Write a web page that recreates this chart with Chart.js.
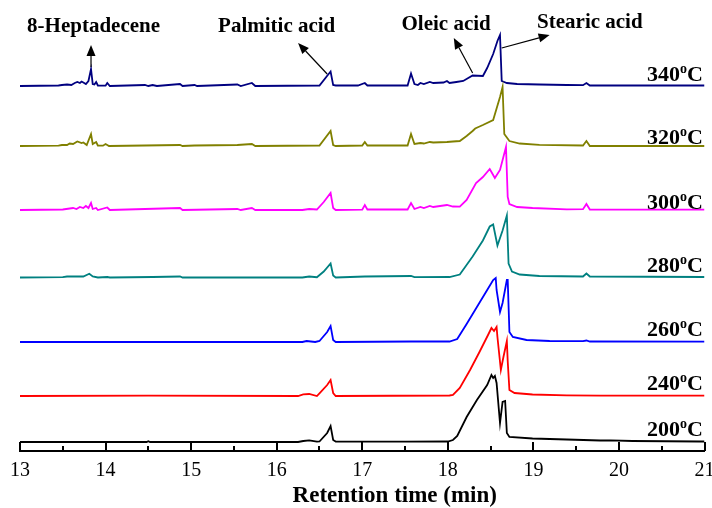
<!DOCTYPE html>
<html>
<head>
<meta charset="utf-8">
<script src="https://cdn.jsdelivr.net/npm/chart.js@4.4.1/dist/chart.umd.min.js"></script>
<style>
  html, body { margin: 0; padding: 0; background: #fff; }
  canvas { display: block; }
</style>
</head>
<body>
<canvas id="gc" width="712" height="508"></canvas>
<script>
// temperature labels, bottom to top
var temps = ["200", "240", "260", "280", "300", "320", "340"];
var colors = ["#000000", "#ff0000", "#0000ff", "#008080", "#ff00ff", "#808000", "#000080"];
// vertical offset of each trace (stacking)
var offsets = [9, 55, 109, 173.5, 241, 305, 365];

// [retention time (min), intensity above baseline]
var trace200 = [[13,0],[14.48,0],[14.5,0.8],[14.52,0],[15.5,0],[16.25,0],[16.31,1],[16.38,1.7],[16.47,0.3],[16.5,0.5],
  [16.59,9],[16.63,16],[16.66,2],[16.69,0.5],[17.5,0.3],[18.0,0.5],[18.06,2],[18.11,6],[18.22,25],[18.34,42],
  [18.46,57],[18.51,67],[18.53,64],[18.55,66],[18.57,59],[18.61,19],[18.64,40],[18.67,41],[18.69,9],[18.72,5],
  [18.99,3.5],[19.39,2.5],[19.78,1.5],[19.9,1.6],[20.16,1],[20.94,0.5],[21,0.5]];
var trace240 = [[13,0],[14.5,0.3],[16.25,0],[16.31,1.7],[16.38,2],[16.47,0],[16.5,2.7],[16.59,11],[16.63,16],[16.66,3],
  [16.69,0],[18.02,0.5],[18.06,1],[18.14,8],[18.26,26],[18.37,44],[18.47,61],[18.51,68],[18.54,65],[18.57,69],
  [18.58,59],[18.62,26],[18.65,39],[18.69,55],[18.7,35],[18.72,6],[18.78,3],[18.99,1.5],[19.39,0.7],[19.78,0.3],[21,0.3]];
var trace260 = [[13,0],[16.3,0],[16.35,1],[16.45,0],[16.5,1],[16.59,10],[16.63,16],[16.66,2],[16.69,0],[17.57,0.5],
  [18.02,0.5],[18.11,3],[18.22,18],[18.34,35],[18.46,52],[18.53,62],[18.56,64],[18.57,52],[18.61,30],[18.64,39],
  [18.69,62],[18.7,62],[18.72,10],[18.76,5],[18.92,2],[19.19,1],[19.58,0.8],[19.62,1.5],[19.66,0.5],[21,0.3]];
var trace280 = [[13,0],[13.5,0.3],[13.55,1],[13.74,1],[13.81,3.7],[13.85,1],[13.91,0],[14.02,0.5],[14.05,0],[14.55,0.5],
  [14.87,1],[14.9,0],[16.3,0],[16.38,1],[16.47,0.3],[16.55,6],[16.63,14],[16.66,2],[16.69,0],[17.03,1],[17.57,1.5],
  [17.61,0.3],[18.02,0.5],[18.14,3],[18.29,21],[18.41,37],[18.49,51],[18.53,53],[18.58,32],[18.64,47],[18.69,62],
  [18.71,14],[18.75,6],[18.84,3],[19.07,1.5],[19.58,1],[19.62,4],[19.66,1],[21,0.5]];
var trace300 = [[13,0],[13.5,0.5],[13.62,2],[13.66,1],[13.7,3],[13.74,2],[13.77,4],[13.8,2],[13.83,7],[13.85,1],
  [13.89,2],[13.91,0],[14.02,2.5],[14.05,0],[14.87,2],[14.9,0],[15.54,1],[15.58,0],[15.71,2],[15.75,0],[16.3,0],
  [16.38,1],[16.47,0.5],[16.55,8],[16.63,17],[16.66,2],[16.69,0],[17.0,0.3],[17.03,5],[17.06,0.5],[17.53,0.5],
  [17.57,7],[17.61,1],[17.68,3],[17.72,2],[17.79,4],[17.83,3],[17.99,5],[18.06,3.5],[18.14,3.3],[18.22,10],
  [18.33,27],[18.41,33],[18.49,41],[18.55,32],[18.61,40],[18.68,63],[18.7,13],[18.72,6],[18.81,3],[18.99,2],
  [19.39,0.7],[19.58,0.8],[19.62,6],[19.66,0.5],[21,0.3]];
var trace320 = [[13,0],[13.45,0.3],[13.49,1],[13.55,1],[13.58,2.5],[13.62,2],[13.67,4.5],[13.72,3],[13.74,3.5],
  [13.78,1],[13.83,12],[13.85,2],[13.89,4],[13.91,0.5],[13.97,0.3],[14.0,2],[14.04,0],[14.87,1],[14.9,0],[15.04,0.5],
  [15.54,1],[15.71,2],[15.75,0],[16.5,0.5],[16.63,15],[16.66,1],[16.69,0],[17.0,0.5],[17.03,4],[17.06,0.5],[17.53,0.5],
  [17.57,12],[17.61,2],[17.68,3],[17.72,2.5],[17.79,4],[17.83,3.5],[17.99,4],[18.06,4.5],[18.14,5],[18.22,10],
  [18.29,15],[18.32,17.5],[18.41,21],[18.53,26],[18.61,49],[18.64,59],[18.66,12],[18.72,5],[18.84,2.5],[19.07,1.2],
  [19.58,0.5],[19.62,5],[19.66,0],[21,0]];
var trace340 = [[13,0],[13.45,0.5],[13.49,1],[13.55,1.5],[13.6,1],[13.64,3],[13.67,4],[13.7,3],[13.72,4.5],[13.74,3.5],
  [13.77,2],[13.8,5],[13.83,17],[13.85,2],[13.87,1.5],[13.89,4],[13.91,0.5],[14.0,0.3],[14.02,3],[14.05,0],[14.46,1],
  [14.5,0],[14.55,1],[14.6,0],[14.87,2],[14.9,0],[15.04,1],[15.07,0],[15.54,1.5],[15.58,0],[15.71,3],[15.75,0],
  [16.5,0.5],[16.63,14.5],[16.66,1],[16.69,0.5],[16.95,0.5],[17.03,3],[17.06,0.5],[17.53,0.5],[17.57,12.5],[17.61,2],
  [17.65,1],[17.68,3],[17.72,2],[17.79,4],[17.83,3],[17.95,3.5],[17.99,5],[18.02,3],[18.1,4],[18.18,5],[18.29,10.5],
  [18.41,10],[18.46,18],[18.53,32],[18.58,45],[18.61,51],[18.63,5],[18.69,3],[18.81,2],[19.07,1.5],[19.39,1],
  [19.58,0.8],[19.62,3],[19.66,0.5],[21,0.5]];
var traces = [trace200, trace240, trace260, trace280, trace300, trace320, trace340];

var xTicks = [13, 14, 15, 16, 17, 18, 19, 20, 21];
var xTitle = "Retention time (min)";

// peak annotations, in data units (min, stacked intensity)
var notes = [
  { text: "8-Heptadecene", tx: 13.86, ty: 419, from: [13.83, 384], to: [13.83, 406] },
  { text: "Palmitic acid", tx: 16.00, ty: 419, from: [16.59, 377], to: [16.25, 408] },
  { text: "Oleic acid", tx: 17.98, ty: 421, from: [18.29, 378], to: [18.07, 413] },
  { text: "Stearic acid", tx: 19.66, ty: 423, from: [18.63, 403], to: [19.19, 416] }
];
var labelLift = [6, 6, 6, 6, 1, 2, 5.5];

var serif = "'Liberation Serif', 'Times New Roman', serif";

function makeDatasets() {
  var sets = [];
  for (var i = 0; i < traces.length; i++) {
    var off = offsets[i];
    sets.push({
      label: temps[i] + "°C",
      data: traces[i].map(function (p) { return { x: p[0], y: p[1] + off }; }),
      borderColor: colors[i],
      borderWidth: 1.8,
      pointRadius: 0,
      tension: 0,
      fill: false
    });
  }
  return sets;
}

var overlay = {
  id: "overlay",
  afterDraw: function (chart) {
    var ctx = chart.ctx;
    var xs = chart.scales.x, ys = chart.scales.y;
    var area = chart.chartArea;
    ctx.save();

    // inward ticks on the bottom axis
    ctx.strokeStyle = "#000";
    ctx.lineWidth = 2;
    for (var v = 13; v <= 21.001; v += 0.5) {
      var px = Math.round(xs.getPixelForValue(v));
      var len = (Math.abs(v - Math.round(v)) < 0.01) ? 9 : 5;
      ctx.beginPath();
      ctx.moveTo(px, area.bottom);
      ctx.lineTo(px, area.bottom - len);
      ctx.stroke();
    }

    // axis title (sits right of centre in the original)
    ctx.fillStyle = "#000";
    ctx.textBaseline = "alphabetic";
    ctx.textAlign = "center";
    ctx.font = "bold 23px " + serif;
    ctx.fillText(xTitle, xs.getPixelForValue(17.38), 502);

    // temperature labels
    for (var i = 0; i < temps.length; i++) {
      var yb = ys.getPixelForValue(offsets[i]) - labelLift[i];
      var right = 703;
      ctx.textAlign = "right";
      ctx.font = "bold 22px " + serif;
      ctx.fillText("C", right, yb);
      var wc = ctx.measureText("C").width;
      ctx.font = "bold 14px " + serif;
      ctx.fillText("o", right - wc, yb - 8);
      var wo = ctx.measureText("o").width;
      ctx.font = "bold 22px " + serif;
      ctx.fillText(temps[i], right - wc - wo, yb);
    }

    // annotations with arrows
    ctx.lineWidth = 1.2;
    for (var k = 0; k < notes.length; k++) {
      var n = notes[k];
      ctx.font = "bold 21px " + serif;
      ctx.textAlign = "center";
      ctx.fillText(n.text, xs.getPixelForValue(n.tx), ys.getPixelForValue(n.ty));
      var x1 = xs.getPixelForValue(n.from[0]), y1 = ys.getPixelForValue(n.from[1]);
      var x2 = xs.getPixelForValue(n.to[0]), y2 = ys.getPixelForValue(n.to[1]);
      var ang = Math.atan2(y2 - y1, x2 - x1);
      var hl = 11, hw = 4.5;
      var bx = x2 - hl * Math.cos(ang), by = y2 - hl * Math.sin(ang);
      ctx.beginPath();
      ctx.moveTo(x1, y1);
      ctx.lineTo(bx, by);
      ctx.stroke();
      ctx.beginPath();
      ctx.moveTo(x2, y2);
      ctx.lineTo(bx + hw * Math.sin(ang), by - hw * Math.cos(ang));
      ctx.lineTo(bx - hw * Math.sin(ang), by + hw * Math.cos(ang));
      ctx.closePath();
      ctx.fill();
    }
    ctx.restore();
  }
};

new Chart(document.getElementById("gc"), {
  type: "line",
  data: { datasets: makeDatasets() },
  options: {
    responsive: false,
    animation: false,
    devicePixelRatio: 1,
    layout: { padding: { left: 20, right: 7.5, top: 0, bottom: 0 } },
    plugins: { legend: { display: false }, tooltip: { enabled: false } },
    scales: {
      x: {
        type: "linear",
        min: 13,
        max: 21,
        afterFit: function (scale) {
          scale.height = 57;
          scale.paddingLeft = 0;
          scale.paddingRight = 0;
        },
        afterBuildTicks: function (scale) {
          scale.ticks = xTicks.map(function (v) { return { value: v }; });
        },
        grid: { display: true, drawOnChartArea: false, drawTicks: false },
        border: { display: true, color: "#000", width: 2 },
        ticks: {
          color: "#000",
          padding: 8,
          maxRotation: 0,
          autoSkip: false,
          font: { family: serif, size: 20 }
        },
        title: { display: false }
      },
      y: {
        display: false,
        min: 0,
        max: 451
      }
    }
  },
  plugins: [overlay]
});
</script>
</body>
</html>
